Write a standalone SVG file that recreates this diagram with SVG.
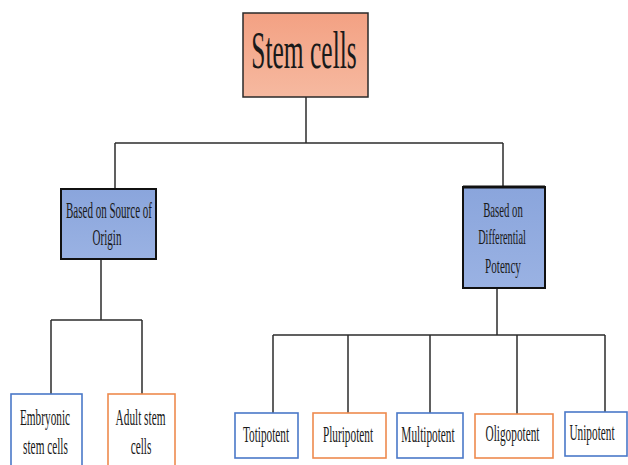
<svg xmlns="http://www.w3.org/2000/svg" width="628" height="465" viewBox="0 0 628 465">
<defs>
<linearGradient id="salmon" x1="0" y1="0" x2="0" y2="1">
<stop offset="0" stop-color="#f3a183"/>
<stop offset="1" stop-color="#f6b9a0"/>
</linearGradient>
<linearGradient id="blue" x1="0" y1="0" x2="0" y2="1">
<stop offset="0" stop-color="#8aa5dc"/>
<stop offset="1" stop-color="#9ab2e3"/>
</linearGradient>
<style>
text{font-family:"Liberation Serif","Times New Roman",serif;fill:#1a1a1a;text-anchor:middle}
.conn line{stroke:#2b2b2b;stroke-width:1.5}
.top{fill:url(#salmon);stroke:#2a2a2a;stroke-width:1.5}
.mid{fill:url(#blue);stroke:#111;stroke-width:2}
.bl{fill:#fff;stroke:#4a78c8;stroke-width:1.6}
.or{fill:#fff;stroke:#ee8a4e;stroke-width:1.6}
.t{font-size:24px}
</style>
</defs>
<rect width="628" height="465" fill="#fff"/>
<g class="conn">
<line x1="306" y1="97" x2="306" y2="143"/>
<line x1="115" y1="143" x2="503" y2="143"/>
<line x1="115" y1="143" x2="115" y2="189"/>
<line x1="503" y1="143" x2="503" y2="187"/>
<line x1="101" y1="259" x2="101" y2="320"/>
<line x1="51" y1="320" x2="142" y2="320"/>
<line x1="51" y1="320" x2="51" y2="394"/>
<line x1="142" y1="320" x2="142" y2="394"/>
<line x1="497" y1="288" x2="497" y2="335"/>
<line x1="273" y1="335" x2="605" y2="335"/>
<line x1="273" y1="335" x2="273" y2="413"/>
<line x1="348" y1="335" x2="348" y2="413"/>
<line x1="430" y1="335" x2="430" y2="413"/>
<line x1="517" y1="335" x2="517" y2="414"/>
<line x1="605" y1="335" x2="605" y2="412"/>
</g>
<g id="stem-cells">
<rect class="top" x="243" y="13" width="125" height="84"/>
<text transform="translate(304,68) scale(0.49,1)" font-size="52">Stem cells</text>
</g>
<g id="source-origin">
<rect class="mid" x="61" y="189" width="95" height="70"/>
<text transform="translate(109,218) scale(0.48,1)" font-size="23">Based on Source of</text>
<text transform="translate(107,245) scale(0.48,1)" font-size="23">Origin</text>
</g>
<g id="differential-potency">
<rect class="mid" x="463" y="187" width="82" height="101"/>
<line x1="463" y1="187" x2="545" y2="187" stroke="#111" stroke-width="3"/>
<text transform="translate(503,217) scale(0.51,1)" font-size="21">Based on</text>
<text transform="translate(502,244) scale(0.49,1)" font-size="21">Differential</text>
<text transform="translate(503,273) scale(0.53,1)" font-size="21">Potency</text>
</g>
<g id="embryonic">
<rect class="bl" x="11" y="394" width="71" height="80"/>
<text class="t" transform="translate(45,425) scale(0.47,1)">Embryonic</text>
<text class="t" transform="translate(45.5,454) scale(0.47,1)">stem cells</text>
</g>
<g id="adult">
<rect class="or" x="108" y="394" width="67" height="80"/>
<text class="t" transform="translate(140.5,425) scale(0.47,1)">Adult stem</text>
<text class="t" transform="translate(141,454) scale(0.47,1)">cells</text>
</g>
<g id="totipotent">
<rect class="bl" x="235" y="413" width="63" height="45"/>
<text class="t" transform="translate(266,442) scale(0.47,1)">Totipotent</text>
</g>
<g id="pluripotent">
<rect class="or" x="313" y="413" width="73" height="45"/>
<text class="t" transform="translate(348,442) scale(0.47,1)">Pluripotent</text>
</g>
<g id="multipotent">
<rect class="bl" x="397" y="413" width="66" height="45"/>
<text class="t" transform="translate(428,442) scale(0.47,1)">Multipotent</text>
</g>
<g id="oligopotent">
<rect class="or" x="475" y="414" width="78" height="44"/>
<text class="t" transform="translate(512.5,441) scale(0.47,1)">Oligopotent</text>
</g>
<g id="unipotent">
<rect class="bl" x="565" y="412" width="62" height="44"/>
<text class="t" transform="translate(592,440) scale(0.47,1)">Unipotent</text>
</g>
</svg>
